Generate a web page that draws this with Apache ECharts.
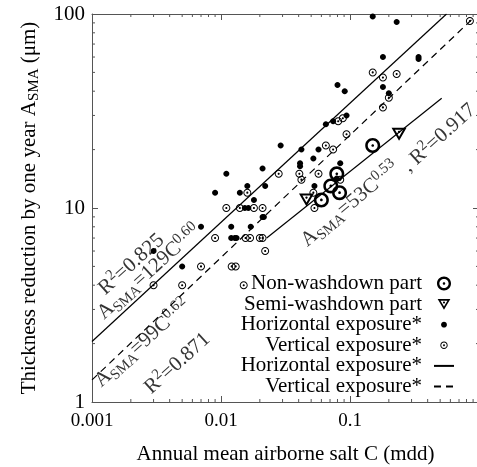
<!DOCTYPE html>
<html>
<head>
<meta charset="utf-8">
<script src="https://cdn.jsdelivr.net/npm/echarts@6/dist/echarts.min.js"></script>
<style>
  html, body { margin: 0; padding: 0; background: #fff; }
  #chart { width: 477px; height: 467px; }
</style>
</head>
<body>
<div id="chart"></div>
<script>
// axis ticks
const xTicks = [0.001, 0.01, 0.1, 1]
const xTickLabels = ['0.001', '0.01', '0.1', '']
const yTicks = [1, 10, 100]
const yTickLabels = ['1', '10', '100']

// measured points (C in mdd, A_SMA in um)
const horizontalPts = [
  [0.003, 6], [0.005, 5], [0.007, 8], [0.009, 12], [0.011, 15], [0.012, 8],
  [0.012, 7], [0.0128, 7], [0.0132, 7], [0.014, 12], [0.0153, 10], [0.0163, 10],
  [0.016, 13], [0.017, 8], [0.018, 11], [0.021, 16], [0.021, 9], [0.0215, 9],
  [0.022, 13], [0.029, 21], [0.042, 20], [0.041, 17], [0.041, 16.4], [0.052, 18],
  [0.057, 20], [0.053, 13], [0.065, 27], [0.074, 28], [0.094, 30], [0.080, 43],
  [0.091, 40], [0.084, 17], [0.079, 14.2], [0.15, 97], [0.18, 60], [0.18, 42],
  [0.20, 39], [0.23, 91], [0.34, 60], [0.34, 58.6]
]
const verticalPts = [
  [0.003, 4], [0.005, 4], [0.007, 5], [0.009, 7], [0.011, 10], [0.0121, 5],
  [0.013, 5], [0.014, 10], [0.015, 4], [0.016, 12], [0.0155, 7], [0.0168, 7],
  [0.018, 10], [0.020, 7], [0.021, 7], [0.021, 10], [0.022, 6], [0.028, 15],
  [0.0405, 15], [0.042, 14], [0.052, 12], [0.053, 10], [0.057, 15], [0.065, 21],
  [0.074, 20], [0.081, 28], [0.088, 29], [0.094, 24], [0.084, 14], [0.15, 50],
  [0.18, 47], [0.18, 33], [0.20, 37], [0.23, 49], [0.85, 92]
]
const nonWashdownPts = [[0.060, 11], [0.071, 13], [0.079, 15], [0.083, 12], [0.15, 21]]
const semiWashdownPts = [[0.046, 11], [0.24, 24]]

// fitted lines, end points
const horizontalFit = [[0.001, 2.05], [0.56, 100]]
const verticalFit = [[0.001, 1.3], [0.9, 95]]
const nonWashdownFit = [[0.0226, 7.0], [0.514, 36.8]]

// equation labels
const annotationText = [
  '{t|R}{sup|2}{t|=0.825}',
  '{t|A}{sub|SMA}{t|=129C}{sup|0.60}',
  '{t|A}{sub|SMA}{t|=99C}{sup|0.62}',
  '{t|R}{sup|2}{t|=0.871}',
  '{t|A}{sub|SMA}{t|=53C}{sup|0.53}',
  '{t|, R}{sup|2}{t|=0.917}'
]
const annotationAt = [[0.00202, 5.12], [0.00277, 4.68], [0.00246, 2.01], [0.0046, 1.58], [0.1, 10.45], [0.49, 22.96]]
const annotationAngle = [42, 42, 42, 42, 40, 42]

const serif = '"Liberation Serif", "DejaVu Serif", serif'
const axisColor = '#555'

function circ(cx, cy, r, cw) {
  const k = 0.5523 * r
  const p = (x, y) => (cx + x).toFixed(2) + ',' + (cy + y).toFixed(2)
  if (cw) {
    return 'M' + p(0, -r) + 'C' + p(k, -r) + ' ' + p(r, -k) + ' ' + p(r, 0) +
      'C' + p(r, k) + ' ' + p(k, r) + ' ' + p(0, r) +
      'C' + p(-k, r) + ' ' + p(-r, k) + ' ' + p(-r, 0) +
      'C' + p(-r, -k) + ' ' + p(-k, -r) + ' ' + p(0, -r) + 'Z'
  }
  return 'M' + p(0, -r) + 'C' + p(-k, -r) + ' ' + p(-r, -k) + ' ' + p(-r, 0) +
    'C' + p(-r, k) + ' ' + p(-k, r) + ' ' + p(0, r) +
    'C' + p(k, r) + ' ' + p(r, k) + ' ' + p(r, 0) +
    'C' + p(r, -k) + ' ' + p(k, -r) + ' ' + p(0, -r) + 'Z'
}
const pad = r => 'M' + (-r) + ',' + (-r) + 'M' + r + ',' + r

const smallRing = circ(0, 0, 10, true) + circ(0, 0, 7.5, false) + circ(0, 0, 2.6, true)
const bigRing = circ(0, 0, 10, true) + circ(0, 0, 6.6, false) + circ(0, 0, 1.8, true)
const triangle = 'M-10,-8L10,-8L0,9Z' + 'M-5.4,-5.3L0,3.9L5.4,-5.3Z' + circ(0, -2.6, 1.6, true)
const dot = circ(0, 0, 10, true)

const chart = echarts.init(document.getElementById('chart'))

const tickLabel = (ticks, labels) => v => {
  const i = ticks.findIndex(t => Math.abs(Math.log10(t) - Math.log10(v)) < 1e-6)
  return i >= 0 ? labels[i] : ''
}

const minorX = []
const minorY = []
;[0.001, 0.01, 0.1].forEach(d => { for (let m = 2; m <= 9; m++) minorX.push(d * m) })
;[1, 10].forEach(d => { for (let m = 2; m <= 9; m++) minorY.push(d * m) })

const xMin = xTicks[0], xMax = xTicks[xTicks.length - 1]
const yMin = yTicks[0], yMax = yTicks[yTicks.length - 1]

function tickLine(x1, y1, x2, y2) {
  return { type: 'line', shape: { x1, y1, x2, y2 }, style: { stroke: axisColor, lineWidth: 1 } }
}

const logAxis = (min, max, extra) => Object.assign({
  type: 'log', logBase: 10, min, max,
  splitLine: { show: false },
  axisLine: { lineStyle: { color: axisColor, width: 1 } },
  axisTick: { inside: true, length: 6, lineStyle: { color: axisColor } },
  minorTick: { show: false }
}, extra)

const option = {
  animation: false,
  backgroundColor: '#fff',
  grid: { left: 92, top: 14, width: 387, height: 388, outerBoundsMode: 'none', containLabel: false },
  xAxis: [
    logAxis(xMin, xMax, {
      name: 'Annual mean airborne salt C (mdd)',
      nameLocation: 'middle', nameGap: 42,
      nameTextStyle: { fontFamily: serif, fontSize: 21, color: '#000' },
      axisLabel: { formatter: tickLabel(xTicks, xTickLabels), fontFamily: serif, fontSize: 19, color: '#000', margin: 10 }
    }),
    logAxis(xMin, xMax, { position: 'top', axisLabel: { show: false } })
  ],
  yAxis: [
    logAxis(yMin, yMax, {
      name: '{t|Thickness reduction by one year A}{sub|SMA}{t| (\u03bcm)}',
      nameLocation: 'middle', nameGap: 50,
      nameTextStyle: {
        fontFamily: serif, fontSize: 21, color: '#000',
        rich: {
          t: { fontFamily: serif, fontSize: 21, lineHeight: 26, color: '#000' },
          sub: { fontFamily: serif, fontSize: 15, lineHeight: 15, verticalAlign: 'bottom', color: '#000' }
        }
      },
      axisLabel: { formatter: tickLabel(yTicks, yTickLabels), fontFamily: serif, fontSize: 21, color: '#000', margin: 7 }
    }),
    logAxis(yMin, yMax, { position: 'right', axisLabel: { show: false } })
  ],
  legend: {
    orient: 'vertical', right: 22, top: 273, align: 'right', padding: 0,
    itemWidth: 20, itemHeight: 14, itemGap: -0.4, selectedMode: false,
    formatter: name => name.replace('\u200B', ''),
    textStyle: { fontFamily: serif, fontSize: 21, lineHeight: 19, color: '#000', padding: [0, 7, 0, 0] },
    data: [
      { name: 'Non-washdown part', icon: 'path://' + bigRing },
      { name: 'Semi-washdown part', icon: 'path://' + triangle + pad(11) },
      { name: 'Horizontal exposure*', icon: 'path://' + dot + pad(24) },
      { name: 'Vertical exposure*', icon: 'path://' + smallRing + pad(19) },
      { name: 'Horizontal exposure*\u200B', itemStyle: { opacity: 0 } },
      { name: 'Vertical exposure*\u200B', itemStyle: { opacity: 0 } }
    ]
  },
  series: [
    {
      type: 'custom', silent: true, z: 1, clip: false,
      data: minorX.map(v => [v, yMin]),
      renderItem: (params, api) => {
        const v = api.value(0)
        const b = api.coord([v, yMin]), t = api.coord([v, yMax])
        return { type: 'group', children: [tickLine(b[0], b[1], b[0], b[1] - 3), tickLine(t[0], t[1], t[0], t[1] + 3)] }
      }
    },
    {
      type: 'custom', silent: true, z: 1, clip: false,
      data: minorY.map(v => [xMin, v]),
      renderItem: (params, api) => {
        const v = api.value(1)
        const l = api.coord([xMin, v]), r = api.coord([xMax, v])
        return { type: 'group', children: [tickLine(l[0], l[1], l[0] + 3, l[1]), tickLine(r[0], r[1], r[0] - 3, r[1])] }
      }
    },
    {
      name: 'Horizontal exposure*\u200B', type: 'line', data: horizontalFit,
      symbol: 'none', lineStyle: { color: '#000', width: 1.2 }, itemStyle: { color: '#000' }, z: 2
    },
    {
      name: 'Vertical exposure*\u200B', type: 'line', data: verticalFit,
      symbol: 'none', lineStyle: { color: '#000', width: 1.2, type: [7, 5] }, itemStyle: { color: '#000' }, z: 2
    },
    {
      name: 'Non-washdown fit', type: 'line', data: nonWashdownFit,
      symbol: 'none', lineStyle: { color: '#000', width: 1.2 }, z: 2
    },
    {
      name: 'Horizontal exposure*', type: 'scatter', data: horizontalPts,
      symbol: 'path://' + dot, symbolSize: 6, itemStyle: { color: '#000', opacity: 1 }, z: 3
    },
    {
      name: 'Vertical exposure*', type: 'scatter', data: verticalPts,
      symbol: 'path://' + smallRing, symbolSize: 8, itemStyle: { color: '#000', opacity: 1 }, z: 3
    },
    {
      name: 'Non-washdown part', type: 'scatter', data: nonWashdownPts,
      symbol: 'path://' + bigRing, symbolSize: 15, itemStyle: { color: '#000', opacity: 1 }, z: 4
    },
    {
      name: 'Semi-washdown part', type: 'scatter', data: semiWashdownPts,
      symbol: 'path://' + triangle, symbolSize: [15, 13], itemStyle: { color: '#000', opacity: 1 }, z: 4
    },
    {
      name: 'annotations', type: 'scatter', silent: true, symbolSize: 0, z: 5,
      data: annotationAt.map((p, i) => ({
        value: p,
        label: { formatter: annotationText[i], rotate: annotationAngle[i] }
      })),
      label: {
        show: true, position: 'inside', align: 'center', verticalAlign: 'middle',
        rich: {
          t: { fontFamily: serif, fontSize: 21, lineHeight: 26, color: '#000' },
          sup: { fontFamily: serif, fontSize: 15, lineHeight: 15, verticalAlign: 'top', color: '#000' },
          sub: { fontFamily: serif, fontSize: 15, lineHeight: 15, verticalAlign: 'bottom', color: '#000' }
        }
      }
    }
  ]
}

chart.setOption(option)
</script>
</body>
</html>
